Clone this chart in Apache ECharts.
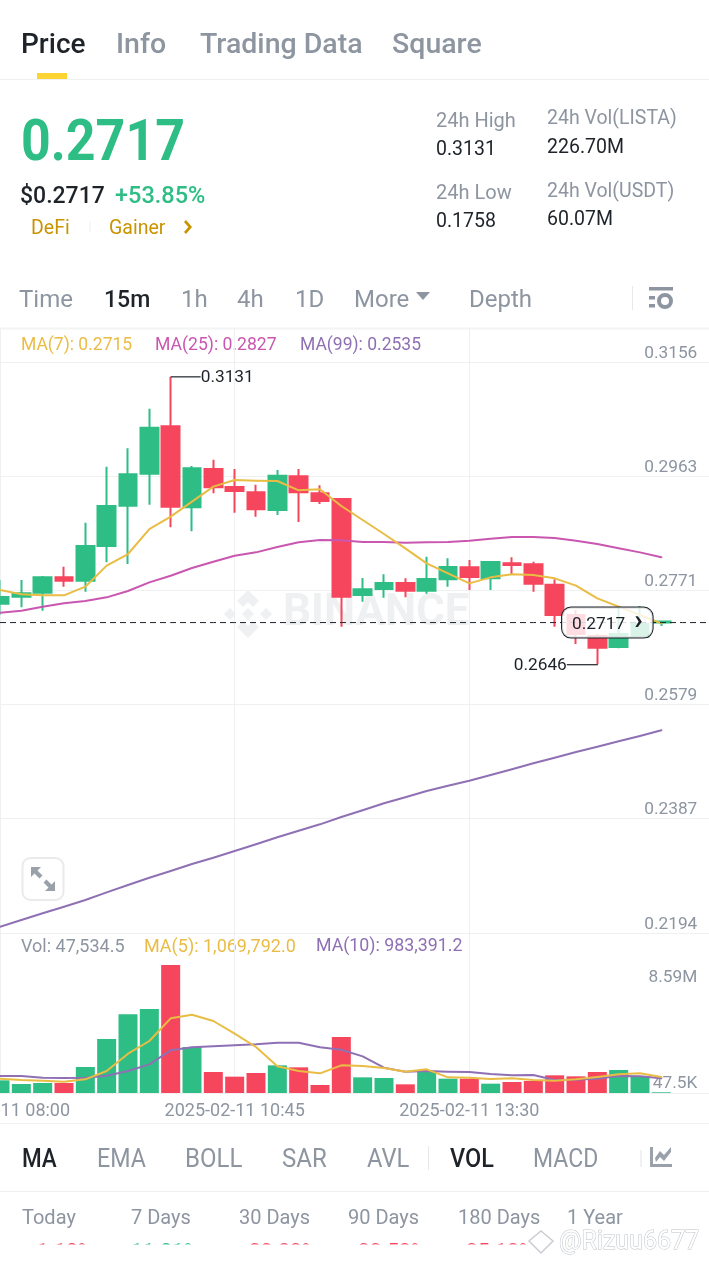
<!DOCTYPE html>
<html><head><meta charset="utf-8">
<style>html,body{margin:0;padding:0;background:#fff}#c{width:709px;height:1262px}</style>
<script src="https://cdn.jsdelivr.net/npm/echarts@6/dist/echarts.min.js"></script>
</head><body><div id="c"></div>
<script>
const times=['2025-02-11 08:00','2025-02-11 08:15','2025-02-11 08:30','2025-02-11 08:45','2025-02-11 09:00','2025-02-11 09:15','2025-02-11 09:30','2025-02-11 09:45','2025-02-11 10:00','2025-02-11 10:15','2025-02-11 10:30','2025-02-11 10:45','2025-02-11 11:00','2025-02-11 11:15','2025-02-11 11:30','2025-02-11 11:45','2025-02-11 12:00','2025-02-11 12:15','2025-02-11 12:30','2025-02-11 12:45','2025-02-11 13:00','2025-02-11 13:15','2025-02-11 13:30','2025-02-11 13:45','2025-02-11 14:00','2025-02-11 14:15','2025-02-11 14:30','2025-02-11 14:45','2025-02-11 15:00','2025-02-11 15:15','2025-02-11 15:30','2025-02-11 15:45','2025-02-11 16:00','2025-02-11 16:15','2025-02-11 16:30'];
const labelledTimes=['2025-02-11 08:00','2025-02-11 10:45','2025-02-11 13:30'];
// open, close, low, high
const candles=[[.27488,.27601,.27297,.27887],[.27606,.27662,.27427,.27887],[.27674,.27932,.27370,.27955],[.27932,.27876,.27775,.28112],[.27876,.28460,.27691,.28853],[.28460,.29134,.28185,.29797],[.29140,.29667,.28157,.30105],[.29679,.30454,.29156,.30774],[.30476,.29123,.28775,.31313],[.29111,.29768,.28707,.29808],[.29757,.29448,.29347,.29915],[.29454,.29387,.29022,.29757],[.29364,.29078,.28954,.29493],[.29067,.29645,.28982,.29740],[.29634,.29364,.28864,.29757],[.29347,.29218,.29168,.29482],[.29252,.27606,.27101,.29252],[.27634,.27730,.27522,.27921],[.27735,.27837,.27590,.27983],[.27837,.27707,.27595,.27915],[.27707,.27904,.27657,.28280],[.27898,.28106,.27775,.28252],[.28101,.27938,.27719,.28224],[.27915,.28190,.27719,.28190],[.28168,.28140,.27983,.28269],[.28151,.27825,.27691,.28196],[.27809,.27297,.27101,.27898],[.27297,.26977,.26809,.27382],[.26944,.26747,.26466,.26977],[.26758,.26977,.26736,.27438],[.26932,.27146,.26932,.27449],[.27170,.27190,.27112,.27202]];
const ma7=[.27719,.27646,.27629,.27629,.27775,.28129,.28325,.28746,.28954,.29207,.29460,.29572,.29561,.29555,.29398,.29415,.29134,.28898,.28662,.28421,.28168,.27999,.27831,.27932,.27983,.27971,.27915,.27792,.27578,.27438,.27297,.27157];
const ma25=[.27337,.27371,.27438,.27494,.27533,.27595,.27702,.27848,.27960,.28089,.28196,.28297,.28353,.28443,.28522,.28561,.28555,.28527,.28527,.28516,.28522,.28527,.28550,.28584,.28612,.28612,.28595,.28550,.28494,.28421,.28353,.28269];
const ma99=[.22046,.22159,.22272,.22383,.22496,.22625,.22749,.22872,.22984,.23102,.23209,.23321,.23434,.23552,.23663,.23771,.23894,.24007,.24125,.24226,.24332,.24422,.24506,.24602,.24698,.24799,.24893,.24989,.25079,.25170,.25259,.25355];
const volumes=[850000,604000,671000,671000,1745000,3624000,5279000,5637000,8590000,3087000,1409000,1096000,1342000,1857000,1722000,537000,3758000,1051000,1007000,582000,1409000,962000,962000,626000,738000,805000,1186000,1119000,1409000,1544000,1074000,47534.5];
const volMa5=[962000,872000,828000,761000,917000,1476000,2640000,3490000,5011000,5257000,4832000,3982000,3087000,1790000,1476000,1320000,1857000,1812000,1678000,1432000,1588000,1051000,1029000,940000,984000,872000,828000,917000,1074000,1253000,1320000,1069792];
const volMa10=[1141000,1141000,1029000,1007000,1029000,1163000,1476000,1924000,2863000,3065000,3132000,3199000,3266000,3378000,3378000,3065000,2908000,2461000,1700000,1432000,1476000,1432000,1409000,1275000,1186000,1208000,872000,895000,962000,1141000,1119000,983391];
const priceTicks=[0.2194,0.2387,0.2579,0.2771,0.2963,0.3156];
const volTicks=[47500,8590000];
const volTickLabels=['47.5K','8.59M'];
const lastPrice=0.2717, highPrice=0.3131, lowPrice=0.2646;

const F='Roboto, "Noto Sans", sans-serif';
const UP='#2EBD85',DOWN='#F6465D',INK='#1E2329',GREY='#8D95A1',GOLD='#C99400',YEL='#E9BC44',PINK='#C957B0',PUR='#8F70B4',LINE='#EFF0F2';
const t=(x,y,text,size,fill,weight,align)=>({type:'text',x,y:y+2,silent:true,style:{text,fontSize:size,fill,fontWeight:weight||400,fontFamily:F,align:align||'left',verticalAlign:'middle'}});
const ts=(x,y,text,size,fill,weight,sx)=>Object.assign(t(x,y,text,size,fill,weight),{scaleX:sx});
const hr=(y,h,c)=>({type:'rect',silent:true,shape:{x:0,y,width:709,height:h||1},style:{fill:c||LINE}});
const box=(x,y,w,h,c,z)=>({type:'rect',silent:true,z:z||0,shape:{x,y,width:w,height:h},style:{fill:c}});
const poly=(points,c,z)=>({type:'polygon',silent:true,z:z||0,shape:{points},style:{fill:c}});

const graphic=[
 t(21,44,'Price',28,INK,500),t(116,44,'Info',28.5,GREY,500),t(200,44,'Trading Data',28.5,GREY,500),t(392,44,'Square',28.5,GREY,500),
 box(37,73,30,6,'#FCD535'),hr(79,1),
 ts(21,143,'0.2717',58,UP,700,0.895),
 t(20,195,'$0.2717',23,INK,500),t(115,195,'+53.85%',23.5,UP,500),
 t(31,227,'DeFi',19.5,GOLD),box(89.5,222,1,10,'#ECEDEF'),t(109,227,'Gainer',19.5,GOLD),
 poly([[184,222],[186,220],[192,227],[186,234],[184,232],[188.4,227]],GOLD),
 t(436,120,'24h High',20,GREY),t(436,148,'0.3131',19.5,INK),t(547,117,'24h Vol(LISTA)',19.5,GREY),t(547,146,'226.70M',19.5,INK),
 t(436,192,'24h Low',20,GREY),t(436,220,'0.1758',19.5,INK),t(547,190,'24h Vol(USDT)',19.5,GREY),t(547,218,'60.07M',19.5,INK),
 t(19,299,'Time',24,GREY),ts(104,299,'15m',24,INK,500,0.96),t(181,299,'1h',24,GREY),t(237,299,'4h',24,GREY),t(295,299,'1D',24,GREY),t(354,299,'More',24,GREY),
 poly([[416,292],[430,292],[423,300]],GREY),t(469,299,'Depth',24,GREY),box(632,286,1,24,'#E6E8EA'),
 box(649,287,24,3.5,GREY),box(649,296,6,3.5,GREY),box(649,304,6,3.5,GREY),
 {type:'circle',silent:true,shape:{cx:665,cy:301,r:6},style:{fill:'#fff',stroke:GREY,lineWidth:4}},
 hr(327.5,2,'#F3F4F5'),
 t(21,344,'MA(7): 0.2715',17.5,YEL),t(155,344,'MA(25): 0.2827',17.6,PINK),t(300,344,'MA(99): 0.2535',17.5,PUR),
 // watermark
 poly([[248,590],[259,601],[253,607],[248,602],[243,607],[237,601]],'#EEF0F1'),
 poly([[230,608],[236,614],[230,620],[224,614]],'#EEF0F1'),
 poly([[266,608],[272,614],[266,620],[260,614]],'#EEF0F1'),
 poly([[248,608],[254,614],[248,620],[242,614]],'#EEF0F1'),
 poly([[237,627],[243,621],[248,626],[253,621],[259,627],[248,638]],'#EEF0F1'),
 t(283,612,'BINANCE',44,'#EEF0F1',700),
 // expand button
 {type:'rect',silent:true,z:6,shape:{x:22.5,y:858,width:41,height:42,r:8},style:{fill:'#fff',stroke:'#E9EAEC',lineWidth:2}},
 poly([[31,867],[41,867],[37.5,870.5],[42.5,875.5],[39.5,878.5],[34.5,873.5],[31,877]],'#9BA1AB',7),
 poly([[55,891],[45,891],[48.5,887.5],[43.5,882.5],[46.5,879.5],[51.5,884.5],[55,881]],'#9BA1AB',7),
 t(21,945,'Vol: 47,534.5',18,GREY),t(144,945,'MA(5): 1,069,792.0',18,YEL),t(316,945,'MA(10): 983,391.2',17.8,PUR),
 hr(1123,1),
 ts(22,1159,'MA',25,INK,500,0.9),ts(97,1159,'EMA',25,GREY,400,0.93),ts(185,1159,'BOLL',25,GREY,400,0.96),ts(282,1159,'SAR',25,GREY,400,0.96),ts(367,1159,'AVL',25,GREY,400,0.95),
 box(428,1146,1,24,'#E6E8EA'),ts(450,1159,'VOL',25,INK,500,0.94),ts(533,1159,'MACD',25,GREY,400,0.92),box(640,1150,2,17,'#F0F1F2'),
 poly([[650,1147],[653,1147],[653,1164],[672,1164],[672,1167],[650,1167]],'#9BA1AB'),
 poly([[655,1158],[660,1151],[664,1155],[671,1147],[671,1152],[664,1161],[660,1157],[656,1162]],'#9BA1AB'),
 hr(1191,1),
 t(22,1217,'Today',20,GREY),t(131,1217,'7 Days',20,GREY),t(239,1217,'30 Days',20,GREY),t(348,1217,'90 Days',20,GREY),t(458,1217,'180 Days',20,GREY),t(567,1217,'1 Year',20,GREY),
 t(31,1251,'-1.10%',21,DOWN),t(131,1251,'11.01%',21,UP),t(249,1251,'33.83%',21,DOWN),t(358,1251,'33.53%',21,DOWN),t(466,1251,'35.18%',21,DOWN),
 box(0,1244.5,709,18,'#fff',1),
 {type:'polygon',silent:true,z:2,shape:{points:[[541,1231],[553,1241],[541,1253],[529,1241]]},style:{fill:'#fff',stroke:'#C9CDD2',lineWidth:1.5}},
 {type:'text',silent:true,z:2,x:559,y:1243,style:{text:'@Rizuu6677',fontSize:25,fontFamily:F,fill:'#fff',stroke:'#BFC4CA',lineWidth:1,verticalAlign:'middle'}}
];

const tickAt=(i,v)=>labelledTimes.indexOf(v)>=0;
const xBase=(grid)=>({type:'category',gridIndex:grid,data:times,boundaryGap:false,
 axisLine:{show:false},axisTick:{show:false},axisLabel:{show:false,interval:tickAt},
 splitLine:{show:true,interval:tickAt,lineStyle:{color:LINE,width:1}}});
const lineS=(name,data,color,x,y)=>({name,type:'line',data,xAxisIndex:x,yAxisIndex:y,showSymbol:false,symbol:'none',silent:true,
 lineStyle:{color,width:2,cap:'round',join:'round'},itemStyle:{color},emphasis:{disabled:true}});
const leader=(idx,val,dir)=>({coord:[idx,val],symbol:'rect',symbolSize:[dir>0?30:31,1.2],symbolOffset:[dir*15,0],
 itemStyle:{color:INK},label:{show:true,position:dir>0?'right':'left',distance:0,offset:[0,1],formatter:String(val),fontSize:17.3,fontFamily:F,color:INK}});

const chart=echarts.init(document.getElementById('c'),null,{renderer:'canvas'});
chart.setOption({
 animation:false,backgroundColor:'#fff',
 graphic,
 grid:[{left:0,top:328,width:725.33,height:605,containLabel:false,outerBoundsMode:'none'},{left:0,top:933,width:725.33,height:160,containLabel:false,outerBoundsMode:'none'}],
 xAxis:[xBase(0),Object.assign(xBase(1),{
   axisLine:{show:true,lineStyle:{color:LINE,width:1}},
   axisLabel:{show:true,interval:tickAt,hideOverlap:false,margin:9,fontSize:18,fontFamily:F,color:GREY,showMinLabel:true}})],
 yAxis:[
  {type:'value',gridIndex:0,position:'right',min:0.2194,max:0.32133,scale:true,axisLine:{show:false},
   axisTick:{show:false,customValues:priceTicks},
   axisLabel:{inside:true,margin:28,customValues:priceTicks,formatter:v=>v.toFixed(4),fontSize:17.3,fontFamily:F,color:GREY,verticalAlign:'bottom',padding:0},
   splitLine:{show:true,lineStyle:{color:LINE,width:1}}},
  {type:'value',gridIndex:1,position:'right',min:0,max:10740000,axisLine:{show:false},
   axisTick:{show:false,customValues:volTicks},
   axisLabel:{inside:true,margin:28,customValues:volTicks,fontSize:17.3,fontFamily:F,color:GREY,
     formatter:v=>{const s=volTickLabels[volTicks.indexOf(v)];return v===volTicks[0]?'{lo|'+s+'}':'{hi|'+s+'}';},
     rich:{lo:{fontSize:17.3,fontFamily:F,color:GREY,padding:[0,0,18,0]},hi:{fontSize:17.3,fontFamily:F,color:GREY,padding:[26,0,0,0]}}},
   splitLine:{show:false}}
 ],
 series:[
  {name:'Candles',type:'candlestick',data:candles,xAxisIndex:0,yAxisIndex:0,barWidth:18,silent:true,
   itemStyle:{color:UP,color0:DOWN,borderColor:UP,borderColor0:DOWN,borderWidth:2},
   markPoint:{silent:true,z:8,data:[leader(8,highPrice,1),leader(28,lowPrice,-1)]}},
  lineS('MA99',ma99,PUR,0,0),
  lineS('MA25',ma25,PINK,0,0),
  lineS('MA7',ma7,YEL,0,0),
  Object.assign(lineS('Last',times.map(()=>lastPrice),INK,0,0),{
   lineStyle:{color:INK,type:[6,4],width:1},
   markPoint:{silent:true,z:10,data:[{coord:[28,lastPrice],symbol:'circle',symbolSize:0,
     label:{show:true,position:'inside',offset:[10,0],backgroundColor:'rgba(255,255,255,0.82)',borderColor:INK,borderWidth:1,borderRadius:9,padding:[7,10,3,10],
       formatter:'{p|'+lastPrice.toFixed(4)+'}{a|›}',rich:{p:{fontSize:17.3,lineHeight:20,fontFamily:F,color:INK},a:{fontSize:28,lineHeight:20,fontWeight:700,fontFamily:F,color:INK,padding:[0,0,6,9]}}}}]}}),
  {name:'Volume',type:'bar',xAxisIndex:1,yAxisIndex:1,barWidth:19,silent:true,
   data:volumes.map((v,i)=>({value:v,itemStyle:{color:candles[i][1]>=candles[i][0]?UP:DOWN}}))},
  lineS('VolMA10',volMa10,PUR,1,1),
  lineS('VolMA5',volMa5,YEL,1,1)
 ]
});
</script></body></html>
